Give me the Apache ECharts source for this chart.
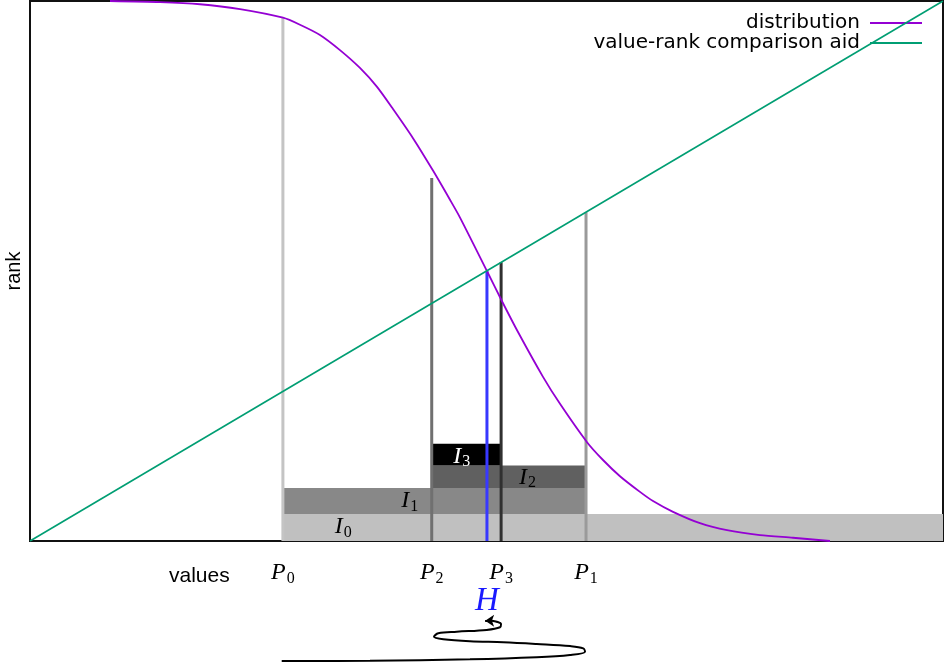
<!DOCTYPE html>
<html>
<head>
<meta charset="utf-8">
<script src="https://cdn.jsdelivr.net/npm/echarts@6/dist/echarts.min.js"></script>
<style>html,body{margin:0;padding:0;background:#fff}#c{width:944px;height:662px}</style>
</head>
<body>
<div id="c"></div>
<script>
// ---- data ----
const curveX = [0.0876, 0.1424, 0.1862, 0.2300, 0.2771, 0.2957, 0.3176, 0.3395, 0.3614, 0.3801, 0.3976, 0.4195, 0.4414, 0.4600, 0.4710, 0.5005, 0.5170, 0.5345, 0.5619, 0.5805, 0.6101, 0.6276, 0.6462, 0.6681, 0.6824, 0.7043, 0.7338, 0.7634, 0.7996, 0.8357, 0.8762];
const curveY = [1.000, 0.998, 0.994, 0.985, 0.969, 0.956, 0.937, 0.909, 0.876, 0.841, 0.800, 0.746, 0.686, 0.632, 0.599, 0.500, 0.444, 0.387, 0.304, 0.254, 0.183, 0.150, 0.120, 0.091, 0.074, 0.054, 0.033, 0.020, 0.011, 0.006, 0.000];
const diagX = [0, 1];
const diagY = [0, 1];

const markerNames = ['0', '2', '3', '1'];          // P subscripts
const markerX = [0.277, 0.440, 0.516, 0.609];
const markerTop = [0.969, 0.672, 0.516, 0.609];
const hX = 0.5005;
const hTop = 0.5;

const intervalNames = ['0', '1', '2', '3'];        // I subscripts
const intStart = [0.277, 0.277, 0.440, 0.440];
const intEnd = [1.000, 0.609, 0.609, 0.516];
const intBottom = [0.000, 0.050, 0.098, 0.140];
const intTop = [0.050, 0.098, 0.140, 0.180];
const intLabelX = [0.343, 0.416, 0.545, 0.473];
const intLabelY = [0.026, 0.074, 0.118, 0.157];

const spiralX = [0.2757, 0.3724, 0.4819, 0.5550, 0.5915, 0.6079, 0.6060, 0.5915, 0.5550, 0.5184, 0.4819, 0.4527, 0.4425, 0.4472, 0.4674, 0.5002, 0.5148, 0.5159, 0.5112, 0.5057];
const spiralY = [0.008, 0.011, 0.022, 0.039, 0.058, 0.085, 0.113, 0.132, 0.149, 0.163, 0.171, 0.188, 0.209, 0.237, 0.250, 0.265, 0.287, 0.314, 0.333, 0.341];
const arrowTipX = 0.4985;

// ---- styles ----
const markerColors = ['#c4c4c4', '#707070', '#303030', '#9a9a9a'];
const intervalColors = ['#c0c0c0', '#888888', '#606060', '#000000'];
const intervalTextColors = ['#000', '#000', '#000', '#fff'];
const serif = '"Liberation Serif", "DejaVu Serif", serif';
const sans = '"Liberation Sans", Arial, sans-serif';

const chart = echarts.init(document.getElementById('c'), null, {renderer: 'canvas'});

function sub(main, s) {
  return '{m|' + main + '}{s|' + s + '}';
}
function richFor(color, size) {
  return {
    m: {fontFamily: serif, fontStyle: 'italic', fontSize: size, color: color, fill: color, verticalAlign: 'middle'},
    s: {fontFamily: serif, fontSize: Math.round(size * 0.68), color: color, fill: color, padding: [Math.round(size * 0.5), 0, 0, 1], verticalAlign: 'middle'}
  };
}

const rectData = intervalNames.map((n, i) => [intStart[i], intEnd[i], intBottom[i], intTop[i], i]);
const markerData = markerX.map((x, i) => [x, markerTop[i], i]);
const labelData = intervalNames.map((n, i) => [intLabelX[i], intLabelY[i], i]);

chart.setOption({
  animation: false,
  backgroundColor: '#fff',
  title: {
    text: 'values', left: 169, top: 566, padding: 0,
    textStyle: {fontFamily: sans, fontSize: 21, fontWeight: 'normal', color: '#000'}
  },
  legend: {
    orient: 'vertical', right: 17, top: 8, align: 'right',
    icon: 'rect', itemWidth: 52, itemHeight: 2, itemGap: 0,
    textStyle: {fontFamily: '"DejaVu Sans", sans-serif', fontSize: 20, color: '#000', padding: [0, 5, 0, 0]},
    data: ['distribution', 'value-rank comparison aid']
  },
  grid: [
    {left: 30, right: 1, top: 1, bottom: 121, show: true, borderColor: '#111', borderWidth: 2, backgroundColor: 'transparent', outerBoundsMode: 'none', containLabel: false},
    {left: 30, right: 1, top: 541, bottom: 0, show: false, outerBoundsMode: 'none', containLabel: false}
  ],
  xAxis: [
    {
      type: 'value', min: 0, max: 1, gridIndex: 0,
      axisLine: {show: false}, splitLine: {show: false},
      axisTick: {show: false},
      axisLabel: {
        show: true, margin: 18,
        customValues: markerX,
        formatter: function (v) {
          const i = markerX.findIndex(x => Math.abs(x - v) < 1e-6);
          return i < 0 ? '' : sub('P', markerNames[i]);
        },
        rich: richFor('#000', 24)
      }
    },
    {type: 'value', min: 0, max: 1, gridIndex: 1, show: false}
  ],
  yAxis: [
    {
      type: 'value', min: 0, max: 1, gridIndex: 0,
      axisLine: {show: false}, splitLine: {show: false}, axisTick: {show: false}, axisLabel: {show: false},
      name: 'rank', nameLocation: 'middle', nameGap: 6, nameRotate: 90,
      nameTextStyle: {fontFamily: sans, fontSize: 20, color: '#000'}
    },
    {type: 'value', min: 0, max: 1, gridIndex: 1, show: false}
  ],
  series: [
    {
      type: 'custom', name: 'intervals', xAxisIndex: 0, yAxisIndex: 0, z: 1,
      encode: {x: [0, 1], y: [2, 3]},
      data: rectData,
      renderItem: function (params, api) {
        const i = api.value(4);
        const p1 = api.coord([api.value(0), api.value(3)]);
        const p2 = api.coord([api.value(1), api.value(2)]);
        return {type: 'rect', shape: {x: p1[0], y: p1[1], width: p2[0] - p1[0], height: p2[1] - p1[1]}, style: {fill: intervalColors[i]}};
      }
    },
    {
      type: 'custom', name: 'markers', xAxisIndex: 0, yAxisIndex: 0, z: 2,
      encode: {x: 0, y: 1},
      data: markerData,
      renderItem: function (params, api) {
        const i = api.value(2);
        const a = api.coord([api.value(0), 0]);
        const b = api.coord([api.value(0), api.value(1)]);
        return {type: 'line', shape: {x1: a[0], y1: a[1], x2: b[0], y2: b[1]}, style: {stroke: markerColors[i], lineWidth: 3}};
      }
    },
    {
      type: 'custom', name: 'H', xAxisIndex: 0, yAxisIndex: 0, z: 3, clip: false,
      encode: {x: 0, y: 1},
      data: [[hX, hTop]],
      renderItem: function (params, api) {
        const a = api.coord([api.value(0), 0]);
        const b = api.coord([api.value(0), api.value(1)]);
        return {type: 'group', children: [
          {type: 'line', shape: {x1: a[0], y1: a[1], x2: b[0], y2: b[1]}, style: {stroke: '#3838ff', lineWidth: 3}},
          {type: 'text', x: a[0], y: a[1] + 60, style: {text: 'H', fontFamily: serif, fontStyle: 'italic', fontSize: 33, fill: '#1a1aff', align: 'center', verticalAlign: 'middle'}}
        ]};
      }
    },
    {
      type: 'custom', name: 'intervalLabels', xAxisIndex: 0, yAxisIndex: 0, z: 4,
      encode: {x: 0, y: 1},
      data: labelData,
      renderItem: function (params, api) {
        const i = api.value(2);
        const p = api.coord([api.value(0), api.value(1)]);
        return {type: 'text', x: p[0], y: p[1], style: {text: sub('I', intervalNames[i]), rich: richFor(intervalTextColors[i], 24), fill: intervalTextColors[i], align: 'center', verticalAlign: 'middle'}};
      }
    },
    {
      type: 'line', name: 'distribution', xAxisIndex: 0, yAxisIndex: 0, z: 5,
      data: curveX.map((x, i) => [x, curveY[i]]),
      smooth: 0.25, showSymbol: false, symbol: 'none',
      lineStyle: {color: '#9400d3', width: 1.8}, itemStyle: {color: '#9400d3'}
    },
    {
      type: 'line', name: 'value-rank comparison aid', xAxisIndex: 0, yAxisIndex: 0, z: 5,
      data: diagX.map((x, i) => [x, diagY[i]]),
      showSymbol: false, symbol: 'none',
      lineStyle: {color: '#009e73', width: 1.6}, itemStyle: {color: '#009e73'}
    },
    {
      type: 'line', name: 'spiral', xAxisIndex: 1, yAxisIndex: 1, z: 5,
      data: spiralX.map((x, i) => [x, spiralY[i]]),
      smooth: 0.35, showSymbol: false, symbol: 'none',
      lineStyle: {color: '#000', width: 2}
    },
    {
      type: 'lines', name: 'arrow', coordinateSystem: 'cartesian2d', xAxisIndex: 1, yAxisIndex: 1, z: 6,
      symbol: ['none', 'arrow'], symbolSize: 9,
      lineStyle: {color: '#000', width: 2, opacity: 1},
      data: [{coords: [[spiralX[spiralX.length - 1], spiralY[spiralY.length - 1]], [arrowTipX, spiralY[spiralY.length - 1]]]}]
    }
  ]
});
</script>
</body>
</html>
